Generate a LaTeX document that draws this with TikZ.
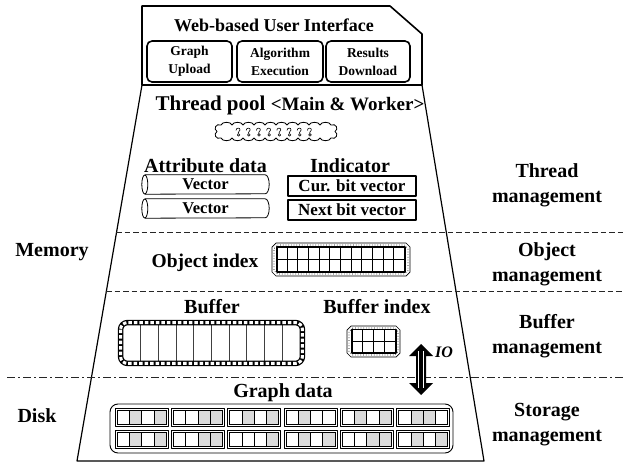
\documentclass[tikz,border=0pt]{standalone}
\usepackage{fontspec}
\setmainfont{Liberation Serif}

\newcommand\bsz[2]{\fontsize{#1}{#2}\selectfont\bfseries}
\colorlet{c0}{white}
\colorlet{c1}{black!14}

% chamfered outline: style, x1, y1, x2, y2, cut
\newcommand\chamfrect[6]{%
  \draw[#1] ({#2+#6},#3) -- ({#4-#6},#3) -- (#4,{#3+#6}) -- (#4,{#5-#6})
    -- ({#4-#6},#5) -- ({#2+#6},#5) -- (#2,{#5-#6}) -- (#2,{#3+#6}) -- cycle;}

% one storage block: x, y, then the fill of its four cells
\newcommand\gblock[6]{%
  \draw[line width=0.6] (#1,#2) rectangle ++(53,18);
  \filldraw[fill=c#3, line width=0.5] ({#1+2},{#2+2}) rectangle ++(12.25,14);
  \filldraw[fill=c#4, line width=0.5] ({#1+14.25},{#2+2}) rectangle ++(12.25,14);
  \filldraw[fill=c#5, line width=0.5] ({#1+26.5},{#2+2}) rectangle ++(12.25,14);
  \filldraw[fill=c#6, line width=0.5] ({#1+38.75},{#2+2}) rectangle ++(12.25,14);
  \draw[line width=0.8] ({#1+2},{#2+2}) rectangle ++(49,14);}

% one thread glyph at horizontal position x
\newcommand\thr[1]{%
  \draw[line width=0.6] ({#1-2},130.4) .. controls ({#1-2},127.4) and ({#1+2.3},127.4) .. ({#1+2},130)
    .. controls ({#1+1.8},131.6) and ({#1-0.2},131.6) .. ({#1},133.4);
  \draw[line width=0.6] ({#1+0.6},134.9) circle[radius=1.3];}

% horizontal drum around a named node: full end on the left, half end on the right
\newcommand\drum[1]{%
  \draw[line width=0.8] ([xshift=3pt]#1.north west) -- ([xshift=-4pt]#1.north east)
    arc[start angle=-90, end angle=90, x radius=4, y radius=9.5] -- ([xshift=3pt]#1.south west);
  \draw[line width=0.8] ([xshift=3pt]#1.west) ellipse[x radius=3, y radius=9.5];}

\begin{document}
\begin{tikzpicture}[x=1pt,y=-1pt,line join=round,
  txt/.style={font=\bsz{20}{25}, align=center, inner sep=0},
  btn/.style={draw, line width=1.6, rounded corners=5, minimum height=41,
    inner sep=0, align=center, font=\bsz{13.5}{18}},
  vec/.style={minimum width=127, minimum height=19, inner sep=0, font=\bsz{16.5}{18}},
  bitbox/.style={draw, line width=1.1, minimum width=128, minimum height=20,
    inner sep=0, font=\bsz{17}{18}},
  sepline/.style={draw=black!85, line width=0.9, dash pattern=on 5.5pt off 3pt},
  tierline/.style={draw=black!85, line width=0.9, dash pattern=on 8pt off 3pt on 2pt off 3pt},
  gridbox/.style={draw, line width=1.5, inner sep=0}]
\useasboundingbox (0,0) rectangle (624,463);

% ---- web front end ----
\draw[line width=1.6] (142,6) -- (390,6) -- (422,34) -- (422,85) -- (142,85) -- cycle;
\node[txt, font=\bsz{18}{20}, anchor=base] (webui) at (274,31) {Web-based User Interface};
\node[btn, minimum width=85] (gup) at (189.5,61.5) {Graph\\Upload};
\node[btn, minimum width=86] (alg) at (280,61.5) {Algorithm\\Execution};
\node[btn, minimum width=84] (res) at (368,61.5) {Results\\Download};

% ---- engine body ----
\draw[line width=1.2] (142,85) -- (77,461) -- (484,461) -- (422,85);

% tier separators
\coordinate (s1l) at (116,232); \coordinate (s1r) at (624,232);
\coordinate (s2l) at (106,291); \coordinate (s2r) at (624,291);
\coordinate (s3l) at (7,377);   \coordinate (s3r) at (624,377);
\draw[sepline] (s1l) -- (s1r);
\draw[sepline] (s2l) -- (s2r);
\draw[tierline] (s3l) -- (s3r);

% ---- thread pool ----
\node[txt, anchor=base] (pool) at (290,110)
  {\fontsize{21}{25}\selectfont Thread pool \fontsize{19}{25}\selectfont <Main \& Worker>};
\draw[line width=0.8] (221,125)
  \foreach \k in {0,...,9}{ .. controls ({221+\k*11+1},121.4) and ({221+\k*11+10},121.4) .. ({221+(\k+1)*11},125) }
  .. controls (336,123) and (339,129) .. (335,131.5)
  .. controls (339,134) and (336,140) .. (331,138)
  \foreach \k in {0,...,9}{ .. controls ({331-\k*11-1},141.6) and ({331-\k*11-10},141.6) .. ({331-(\k+1)*11},138) }
  .. controls (216,140) and (213,134) .. (217,131.5)
  .. controls (213,129) and (216,123) .. (221,125) -- cycle;
\coordinate (cloud) at (276,131.5);
\foreach \i in {0,...,7}{\thr{238+\i*10.2}}

% ---- attribute data and indicators ----
\node[txt, anchor=base] (attr) at (205.5,172) {Attribute data};
\node[vec] (v1) at (205.5,184.5) {Vector};
\node[vec] (v2) at (205.5,208.5) {Vector};
\drum{v1}
\drum{v2}
\node[txt, anchor=base] (ind) at (350,172) {Indicator};
\node[bitbox] (cur) at (352,186) {Cur. bit vector};
\node[bitbox] (nxt) at (352,210) {Next bit vector};

% ---- object index ----
\node[txt, font=\bsz{19.5}{22}, anchor=base] (oidx) at (205,267) {Object index};
\chamfrect{line width=0.7}{272}{243}{410}{276}{4}
\chamfrect{line width=0.7, dotted}{274}{245}{408}{274}{3.5}
\node[gridbox, minimum width=128, minimum height=25] (oigrid) at (341,259.5) {};
\foreach \i in {1,...,11}
  \draw[line width=0.7] ([xshift=\i*10.667pt]oigrid.north west) -- ([xshift=\i*10.667pt]oigrid.south west);
\draw[line width=0.7] (oigrid.west) -- (oigrid.east);

% ---- buffer ----
\node[txt, anchor=base] (buf) at (212,313) {Buffer};
\node[inner sep=0, minimum width=181.5, minimum height=40.5] (bufbox) at (211.5,343) {};
\foreach \i in {1,...,9}
  \draw[black!75, line width=0.8] ([xshift=2.25pt+\i*17.7pt]bufbox.north west) -- ([xshift=2.25pt+\i*17.7pt]bufbox.south west);
\draw[line width=5.5, rounded corners=7] (bufbox.north west) rectangle (bufbox.south east);
\draw[white, line width=3, dash pattern=on 3.5pt off 2pt, rounded corners=7] (bufbox.north west) rectangle (bufbox.south east);

% ---- buffer index ----
\node[txt, anchor=base] (bidx) at (377,313) {Buffer index};
\chamfrect{line width=0.7}{347}{326}{400}{357}{4}
\chamfrect{line width=0.7, dotted}{349}{328}{398}{355}{3.5}
\node[gridbox, minimum width=44, minimum height=23.5] (bigrid) at (374,341.25) {};
\foreach \i in {1,2,3}
  \draw[line width=0.7] ([xshift=\i*11pt]bigrid.north west) -- ([xshift=\i*11pt]bigrid.south west);
\draw[line width=0.7] (bigrid.west) -- (bigrid.east);

% ---- IO transfer between memory and disk ----
\fill (421,344) -- (433,356) -- (426,356) -- (426,383) -- (433,383) -- (421,395)
  -- (409,383) -- (416,383) -- (416,356) -- (409,356) -- cycle;
\draw[white, line width=1.1] (418.6,351) -- (418.6,388) (423.4,351) -- (423.4,388);
\node[font=\bfseries\itshape\fontsize{16}{18}\selectfont, anchor=base, inner sep=0] (io) at (444,357) {IO};

% ---- graph data on disk ----
\node[txt, anchor=base] (gdata) at (283,397) {Graph data};
\node[draw, line width=0.9, rounded corners=8, minimum width=343, minimum height=49, inner sep=0] (gbox) at (281.5,428.5) {};
\gblock{115}{408}{0}{1}{0}{1}
\gblock{171.3}{408}{0}{0}{1}{1}
\gblock{227.6}{408}{0}{1}{0}{1}
\gblock{283.9}{408}{0}{1}{0}{0}
\gblock{340.2}{408}{0}{1}{0}{1}
\gblock{396.5}{408}{0}{1}{1}{0}
\gblock{115}{430}{0}{1}{0}{1}
\gblock{171.3}{430}{0}{0}{1}{1}
\gblock{227.6}{430}{0}{0}{0}{1}
\gblock{283.9}{430}{0}{1}{0}{1}
\gblock{340.2}{430}{0}{0}{1}{1}
\gblock{396.5}{430}{0}{1}{0}{1}

% ---- tier labels ----
\node[txt, anchor=base] (mem) at (52,256) {Memory};
\node[txt, anchor=base] (disk) at (37,422) {Disk};
\node[txt] (tm) at (547,185.5) {Thread\\management};
\node[txt] (om) at (547,264.5) {Object\\management};
\node[txt] (bm) at (547,336) {Buffer\\management};
\node[txt] (sm) at (547,424.5) {Storage\\management};
\end{tikzpicture}
\end{document}
